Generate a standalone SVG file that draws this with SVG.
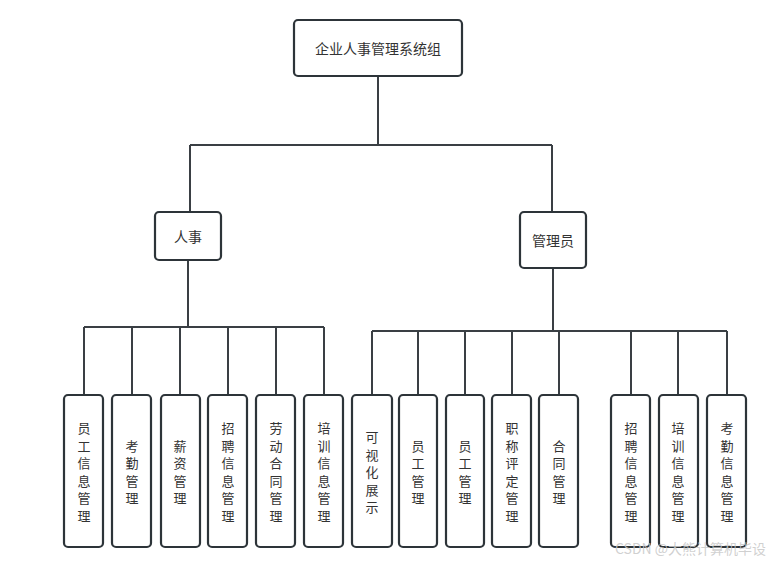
<svg xmlns="http://www.w3.org/2000/svg" width="780" height="563" viewBox="0 0 780 563">
<style>
.b{fill:#fff;stroke:#2d3439;stroke-width:2.2}
.t{font-family:"Noto Sans CJK SC","Liberation Sans",sans-serif;font-size:14px;fill:#333;text-anchor:middle;dominant-baseline:central}
.v{font-size:13px}
.c{fill:none;stroke:#3a3f44;stroke-width:2}
</style>
<rect width="780" height="563" fill="#fff"/>
<g id="connectors" class="c">
<path d="M378 76V145M190 145H552M190 145V212M552 145V212"/>
<path d="M188 260V327M84 327H324M84 327V395M132 327V395M180 327V395M228 327V395M276 327V395M324 327V395"/>
<path d="M553 268V331M372 331H727M372 331V395M418 331V395M465 331V395M512 331V395M559 331V395M631 331V395M678 331V395M727 331V395"/>
</g>
<g id="root"><rect class="b" x="294" y="20" width="168" height="56" rx="4"/><text class="t" x="378" y="48">企业人事管理系统组</text></g>
<g id="renshi"><rect class="b" x="155" y="212" width="66" height="48" rx="4"/><text class="t" x="188" y="236">人事</text></g>
<g id="guanliyuan"><rect class="b" x="520" y="212" width="66" height="56" rx="4"/><text class="t" x="553" y="240">管理员</text></g>
<g id="n1"><rect class="b" x="64" y="395" width="39" height="152" rx="4"/><text class="t v"><tspan x="84" y="427">员</tspan><tspan x="84" y="445">工</tspan><tspan x="84" y="462">信</tspan><tspan x="84" y="480">息</tspan><tspan x="84" y="497">管</tspan><tspan x="84" y="515">理</tspan></text></g>
<g id="n2"><rect class="b" x="112" y="395" width="39" height="152" rx="4"/><text class="t v"><tspan x="132" y="445">考</tspan><tspan x="132" y="462">勤</tspan><tspan x="132" y="480">管</tspan><tspan x="132" y="497">理</tspan></text></g>
<g id="n3"><rect class="b" x="161" y="395" width="39" height="152" rx="4"/><text class="t v"><tspan x="180" y="445">薪</tspan><tspan x="180" y="462">资</tspan><tspan x="180" y="480">管</tspan><tspan x="180" y="497">理</tspan></text></g>
<g id="n4"><rect class="b" x="208" y="395" width="39" height="152" rx="4"/><text class="t v"><tspan x="228" y="427">招</tspan><tspan x="228" y="445">聘</tspan><tspan x="228" y="462">信</tspan><tspan x="228" y="480">息</tspan><tspan x="228" y="497">管</tspan><tspan x="228" y="515">理</tspan></text></g>
<g id="n5"><rect class="b" x="256" y="395" width="39" height="152" rx="4"/><text class="t v"><tspan x="276" y="427">劳</tspan><tspan x="276" y="445">动</tspan><tspan x="276" y="462">合</tspan><tspan x="276" y="480">同</tspan><tspan x="276" y="497">管</tspan><tspan x="276" y="515">理</tspan></text></g>
<g id="n6"><rect class="b" x="304" y="395" width="39" height="152" rx="4"/><text class="t v"><tspan x="324" y="427">培</tspan><tspan x="324" y="445">训</tspan><tspan x="324" y="462">信</tspan><tspan x="324" y="480">息</tspan><tspan x="324" y="497">管</tspan><tspan x="324" y="515">理</tspan></text></g>
<g id="n7"><rect class="b" x="352" y="395" width="40" height="152" rx="4"/><text class="t v"><tspan x="372" y="436">可</tspan><tspan x="372" y="454">视</tspan><tspan x="372" y="471">化</tspan><tspan x="372" y="489">展</tspan><tspan x="372" y="506">示</tspan></text></g>
<g id="n8"><rect class="b" x="399" y="395" width="38" height="152" rx="4"/><text class="t v"><tspan x="418" y="445">员</tspan><tspan x="418" y="462">工</tspan><tspan x="418" y="480">管</tspan><tspan x="418" y="497">理</tspan></text></g>
<g id="n9"><rect class="b" x="446" y="395" width="38" height="152" rx="4"/><text class="t v"><tspan x="465" y="445">员</tspan><tspan x="465" y="462">工</tspan><tspan x="465" y="480">管</tspan><tspan x="465" y="497">理</tspan></text></g>
<g id="n10"><rect class="b" x="492" y="395" width="39" height="152" rx="4"/><text class="t v"><tspan x="512" y="427">职</tspan><tspan x="512" y="445">称</tspan><tspan x="512" y="462">评</tspan><tspan x="512" y="480">定</tspan><tspan x="512" y="497">管</tspan><tspan x="512" y="515">理</tspan></text></g>
<g id="n11"><rect class="b" x="539" y="395" width="39" height="152" rx="4"/><text class="t v"><tspan x="559" y="445">合</tspan><tspan x="559" y="462">同</tspan><tspan x="559" y="480">管</tspan><tspan x="559" y="497">理</tspan></text></g>
<g id="n12"><rect class="b" x="611" y="395" width="39" height="152" rx="4"/><text class="t v"><tspan x="631" y="427">招</tspan><tspan x="631" y="445">聘</tspan><tspan x="631" y="462">信</tspan><tspan x="631" y="480">息</tspan><tspan x="631" y="497">管</tspan><tspan x="631" y="515">理</tspan></text></g>
<g id="n13"><rect class="b" x="659" y="395" width="39" height="152" rx="4"/><text class="t v"><tspan x="678" y="427">培</tspan><tspan x="678" y="445">训</tspan><tspan x="678" y="462">信</tspan><tspan x="678" y="480">息</tspan><tspan x="678" y="497">管</tspan><tspan x="678" y="515">理</tspan></text></g>
<g id="n14"><rect class="b" x="707" y="395" width="39" height="152" rx="4"/><text class="t v"><tspan x="727" y="427">考</tspan><tspan x="727" y="445">勤</tspan><tspan x="727" y="462">信</tspan><tspan x="727" y="480">息</tspan><tspan x="727" y="497">管</tspan><tspan x="727" y="515">理</tspan></text></g>
<text x="615" y="554" font-family="Noto Sans CJK SC,Liberation Sans,sans-serif" font-size="14" fill="#c8c8c8" fill-opacity="0.85">CSDN @大熊计算机毕设</text>
</svg>
